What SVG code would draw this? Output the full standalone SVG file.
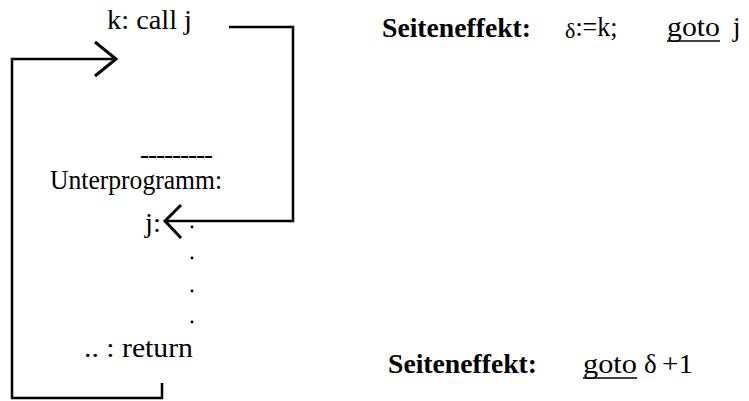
<svg xmlns="http://www.w3.org/2000/svg" width="749" height="401" viewBox="0 0 749 401">
  <style>
    .t { font-family: "Liberation Serif", "Times New Roman", serif; font-size: 27px; fill: #000; }
    .b { font-family: "Liberation Serif", "Times New Roman", serif; font-size: 27px; font-weight: bold; fill: #000; }
    .ln { fill: none; stroke: #000; stroke-width: 2.5; stroke-linejoin: miter; }
    .ah { fill: none; stroke: #000; stroke-width: 3; stroke-linecap: butt; }
    .ul { stroke: #000; stroke-width: 1.3; }
  </style>
  <rect width="749" height="401" fill="#fff"/>

  <g id="call">
    <text class="t" x="107" y="29" textLength="85" lengthAdjust="spacingAndGlyphs">k: call j</text>
  </g>

  <g id="unterprogramm">
    <text class="t" x="140" y="163" textLength="73" lengthAdjust="spacing">---------</text>
    <text class="t" x="50" y="189" textLength="172" lengthAdjust="spacingAndGlyphs">Unterprogramm:</text>
    <text class="t" x="145" y="232" textLength="16" lengthAdjust="spacingAndGlyphs">j:</text>
    <circle cx="192" cy="227" r="1.4"/>
    <circle cx="192" cy="258" r="1.4"/>
    <circle cx="192" cy="291" r="1.4"/>
    <circle cx="192" cy="322" r="1.4"/>
  </g>

  <g id="return">
    <text class="t" x="84" y="357" textLength="109" lengthAdjust="spacingAndGlyphs">.. : return</text>
  </g>

  <g id="effekt-call">
    <text class="b" x="382" y="37" textLength="149" lengthAdjust="spacingAndGlyphs">Seiteneffekt:</text>
    <text class="t" x="565" y="38"><tspan font-size="22">δ</tspan><tspan dy="-2" textLength="42" lengthAdjust="spacingAndGlyphs">:=k;</tspan></text>
    <text class="t" x="667" y="36" textLength="53" lengthAdjust="spacingAndGlyphs">goto</text>
    <line class="ul" x1="667" y1="41" x2="720" y2="41"/>
    <text class="t" x="733" y="36">j</text>
  </g>

  <g id="effekt-return">
    <text class="b" x="388" y="373" textLength="149" lengthAdjust="spacingAndGlyphs">Seiteneffekt:</text>
    <text class="t" x="583" y="373" textLength="54" lengthAdjust="spacingAndGlyphs">goto</text>
    <line class="ul" x1="583" y1="378" x2="637" y2="378"/>
    <text class="t" x="644" y="373">δ</text>
    <text class="t" x="662" y="373" textLength="31" lengthAdjust="spacingAndGlyphs">+1</text>
  </g>

  <g id="connectors">
    <path class="ln" d="M229,27 H293 V221 H166"/>
    <polyline class="ah" points="181,205 165,221 181,238"/>
    <path class="ln" d="M162,383 V398 H12 V59 H116"/>
    <polyline class="ah" points="95,42 116,59 95,76"/>
  </g>
</svg>
